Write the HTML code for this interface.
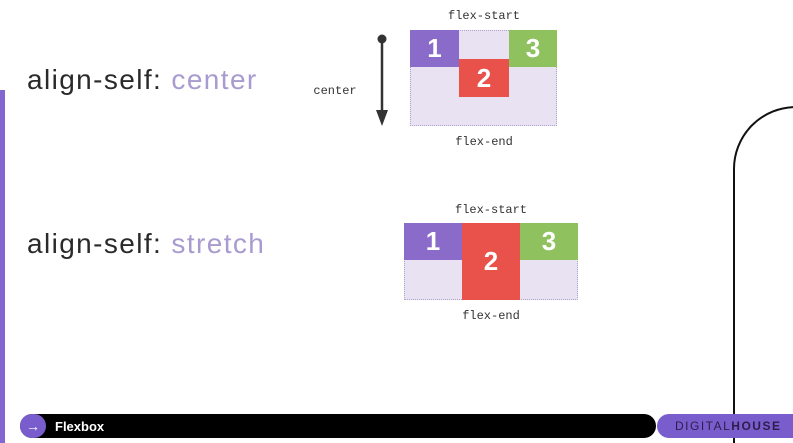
<!DOCTYPE html>
<html><head><meta charset="utf-8"><style>
body{margin:0;width:793px;height:443px;overflow:hidden;background:#fff;position:relative;font-family:"Liberation Sans",sans-serif}
div,span{position:absolute;box-sizing:border-box}
.t{font-size:28px;letter-spacing:1.4px;color:#2a2a2a;white-space:nowrap}
.t span{position:static;color:#a99bcf}
.m{font-family:"Liberation Mono",monospace;font-size:12px;color:#333;white-space:nowrap;transform:translateX(-50%)}
.c{background:#e8e2f3;border:1px dotted #b0a4cc}
.i{color:#fff;font-weight:bold;font-size:26px;display:flex;align-items:center;justify-content:center}
.p{background:#8b6bc9}.r{background:#e8524a}.g{background:#8fc25f}
</style></head><body>
<div style="left:0;top:90px;width:5px;height:353px;background:#8466d0"></div>
<div class="t" style="left:27px;top:64px">align-self: <span>center</span></div>
<div class="t" style="left:27px;top:228px">align-self: <span>stretch</span></div>

<div class="m" style="left:484px;top:9px">flex-start</div>
<div class="m" style="left:484px;top:135px">flex-end</div>
<div class="m" style="left:335px;top:84px">center</div>
<svg style="position:absolute;left:372px;top:30px" width="20" height="100"><circle cx="10" cy="9" r="4.5" fill="#333"/><line x1="10" y1="9" x2="10" y2="85" stroke="#333" stroke-width="2.5"/><polygon points="4,80 16,80 10,96" fill="#333"/></svg>
<div class="c" style="left:410px;top:30px;width:147px;height:96px"></div>
<div class="i p" style="left:410px;top:30px;width:49px;height:37px">1</div>
<div class="i r" style="left:459px;top:59px;width:50px;height:38px">2</div>
<div class="i g" style="left:509px;top:30px;width:48px;height:37px">3</div>

<div class="m" style="left:491px;top:203px">flex-start</div>
<div class="m" style="left:491px;top:309px">flex-end</div>
<div class="c" style="left:404px;top:223px;width:174px;height:77px"></div>
<div class="i p" style="left:404px;top:223px;width:58px;height:37px">1</div>
<div class="i r" style="left:462px;top:223px;width:58px;height:77px">2</div>
<div class="i g" style="left:520px;top:223px;width:58px;height:37px">3</div>

<svg style="position:absolute;left:720px;top:95px" width="73" height="348"><path d="M14,348 L14,75 A62,62 0 0 1 76,12" fill="none" stroke="#111" stroke-width="2"/></svg>

<div style="left:20px;top:414px;width:636px;height:24px;background:#000;border-radius:12px"></div>
<div style="left:20px;top:414px;width:26px;height:24px;background:#7a5dcc;border-radius:12px;color:#fff;font-size:14px;text-align:center;line-height:24px">→</div>
<div style="left:55px;top:419px;color:#fff;font-weight:bold;font-size:13px">Flexbox</div>
<div style="left:657px;top:414px;width:150px;height:24px;background:#7a5dcc;border-radius:12px;font-size:12px;letter-spacing:1.5px;line-height:24px;padding-left:18px;color:#2a1f4a">DIGITAL<b>HOUSE</b></div>
</body></html>
